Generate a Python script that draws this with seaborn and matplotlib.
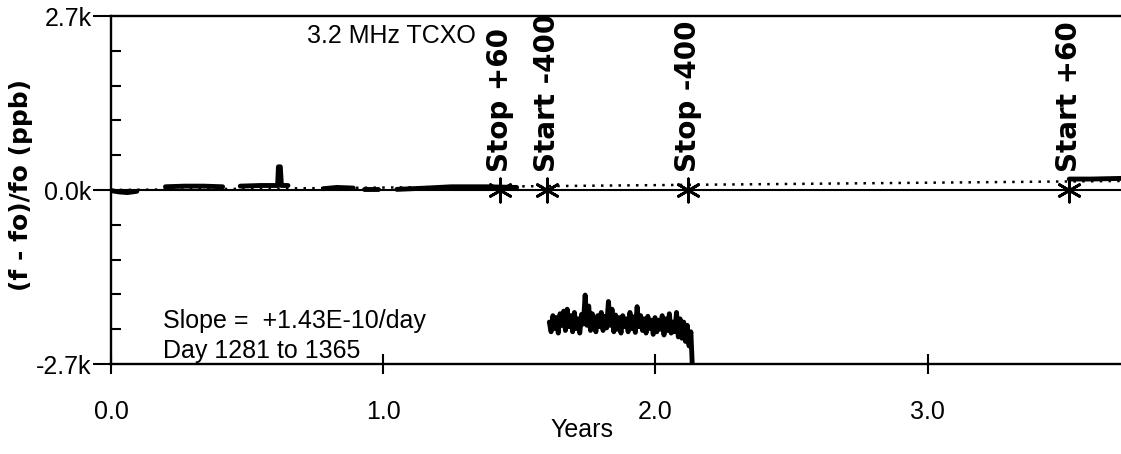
import numpy as np
import pandas as pd
import matplotlib
matplotlib.use('Agg')
import matplotlib.pyplot as plt
import seaborn as sns

# near-zero data pieces (years, k-ppb)
seg_x = [
    [0.00, 0.03, 0.06, 0.095],
    [0.20, 0.27, 0.34, 0.41],
    [0.475, 0.55, 0.612, 0.615, 0.622, 0.626, 0.65],
    [0.78, 0.83, 0.89],
    [0.93, 0.98],
    [1.05, 1.16, 1.25, 1.38, 1.49],
    [3.52, 3.60, 3.71],
]
seg_y = [
    [-0.01, -0.03, -0.04, -0.02],
    [0.05, 0.06, 0.06, 0.05],
    [0.06, 0.07, 0.07, 0.36, 0.36, 0.07, 0.07],
    [0.02, 0.04, 0.03],
    [0.02, 0.02],
    [0.01, 0.03, 0.05, 0.05, 0.04],
    [0.17, 0.17, 0.18],
]

# the noisy stretch (years 1.61 to 2.13), then the drop to the floor
noise_start, noise_end = 1.61, 2.13
noise_y = [
    -2.05, -2.20, -1.95, -2.15, -1.98, -2.22, -1.92, -2.10, -1.88, -2.18,
    -1.85, -2.12, -1.95, -2.20, -1.90, -2.15, -2.00, -2.22, -1.93, -2.08,
    -1.63, -2.10, -1.80, -2.18, -1.92, -2.05, -2.20, -1.95, -2.12, -1.90,
    -2.18, -1.96, -2.14, -1.73, -2.10, -1.85, -2.20, -1.94, -2.16, -1.98,
    -2.22, -1.95, -2.12, -2.00, -2.20, -1.90, -2.15, -1.97, -2.21, -1.81,
    -2.12, -1.95, -2.18, -2.00, -2.22, -1.96, -2.15, -2.02, -2.24, -1.98,
    -2.20, -2.02, -2.16, -1.95, -2.25, -2.00, -2.18, -1.92, -2.22, -2.05,
    -2.20, -1.90, -2.28, -2.00, -2.30, -2.05, -2.35, -2.10, -2.42, -2.20,
]
drop_x, drop_y = 2.135, -2.7

# fitted trend (dotted)
trend_x = [0.0, 3.71]
trend_y = [0.0, 0.14]

event_x = [1.43, 1.60, 2.12, 3.52]
event_y = [0.0, 0.0, 0.0, 0.0]
event_labels = ['Stop +60', 'Start -400', 'Stop -400', 'Start +60']

ytick_vals = [-2.7, 0.0, 2.7]
ytick_labels = ['-2.7k', '0.0k', '2.7k']
yminor_vals = [-2.16, -1.62, -1.08, -0.54, 0.54, 1.08, 1.62, 2.16]
xtick_vals = [0, 1, 2, 3]
xtick_labels = ['0.0', '1.0', '2.0', '3.0']

sns.set_theme(style='ticks')
plt.rcParams['font.family'] = ['Liberation Sans', 'DejaVu Sans']
plt.rcParams['text.color'] = 'black'
plt.rcParams['axes.labelcolor'] = 'black'
plt.rcParams['xtick.color'] = 'black'
plt.rcParams['ytick.color'] = 'black'

rows = []
for i, (xs, ys) in enumerate(zip(seg_x, seg_y)):
    for x, y in zip(xs, ys):
        rows.append({'t': x, 'v': y, 'seg': i})
nx = np.linspace(noise_start, noise_end, len(noise_y))
for x, y in zip(nx, noise_y):
    rows.append({'t': x, 'v': y, 'seg': 99})
rows.append({'t': drop_x, 'v': drop_y, 'seg': 99})
df = pd.DataFrame(rows)

fig = plt.figure(figsize=(11.21, 4.54), dpi=100)
ax = fig.add_axes([111 / 1121, (454 - 364) / 454, 1010 / 1121, 348 / 454])

ax.axhline(0, color='black', lw=1.5, zorder=1)
sns.lineplot(x=trend_x, y=trend_y, ax=ax, color='black', lw=1.8,
             linestyle=(0, (1, 2.5)))
sns.lineplot(data=df, x='t', y='v', units='seg', estimator=None, sort=False,
             ax=ax, color='black', lw=3.5, legend=False)
sns.scatterplot(x=event_x, y=event_y, ax=ax, marker=(6, 2, 0), s=280,
                color='black', linewidth=2, zorder=5)

for x, lab in zip(event_x, event_labels):
    ax.text(x, 0.28, lab, rotation=90, ha='center', va='bottom',
            fontfamily='DejaVu Sans', fontweight='bold', fontsize=20,
            clip_on=True)

ax.text(1.03, 2.28, '3.2 MHz TCXO', ha='center', va='baseline', fontsize=18)
ax.text(0.19, -2.61, 'Slope =  +1.43E-10/day\nDay 1281 to 1365',
        ha='left', va='baseline', fontsize=18, linespacing=1.35)

ax.set_xlim(0, 3.71)
ax.set_ylim(-2.7, 2.7)
ax.set_xticks(xtick_vals, labels=xtick_labels)
ax.set_yticks(ytick_vals, labels=ytick_labels)
ax.set_yticks(yminor_vals, minor=True)
ax.tick_params(axis='x', which='major', direction='inout', length=14,
               width=1.5, pad=19, labelsize=18, bottom=True)
ax.tick_params(axis='y', which='major', direction='out', length=13,
               width=1.5, pad=1, labelsize=18, left=True)
ax.tick_params(axis='y', which='minor', direction='in', length=7,
               width=1.5, left=True)

for side in ['top', 'left', 'bottom']:
    ax.spines[side].set_linewidth(1.7)
    ax.spines[side].set_color('black')
ax.spines['right'].set_visible(False)

ax.set_xlabel('Years', fontsize=18, va='top')
ax.xaxis.set_label_coords(0.466, -0.155)
ax.set_ylabel('(f - fo)/fo (ppb)', fontfamily='DejaVu Sans',
              fontweight='bold', fontsize=18)
ax.yaxis.set_label_coords(-0.077, 0.514)

fig.savefig('out.png', dpi=100)
